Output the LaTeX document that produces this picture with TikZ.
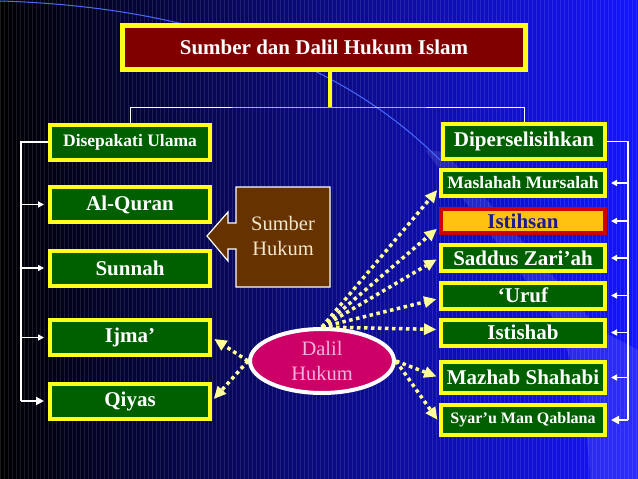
\documentclass[tikz,border=0pt]{standalone}
\usepackage{fontspec}
\setmainfont{Liberation Serif}
\usetikzlibrary{positioning, arrows.meta, shapes.geometric}
\definecolor{hijau}{HTML}{006000}
\definecolor{kuning}{HTML}{FFFF1A}
\definecolor{kuningmuda}{HTML}{FFFF99}
\definecolor{merah}{HTML}{800000}
\definecolor{oranye}{HTML}{FFC20E}
\definecolor{merahtua}{HTML}{D00000}
\definecolor{birunila}{HTML}{1C1C8C}
\definecolor{coklat}{HTML}{663300}
\definecolor{krem}{HTML}{F2E6CC}
\definecolor{magenta}{HTML}{CC0066}
\definecolor{merahmuda}{HTML}{F8B0DC}
\definecolor{birutua}{HTML}{000088}
\definecolor{biruterang}{HTML}{1414FF}
\definecolor{biruhias}{HTML}{4A6AFF}

\begin{document}
\begin{tikzpicture}[x=1pt, y=-1pt,
    kotak/.style={draw=kuning, line width=4pt, fill=hijau, text=white,
                  minimum width=160pt, minimum height=35pt, inner sep=0pt,
                  font=\fontsize{21}{25}\bfseries\selectfont},
    kotakkanan/.style={kotak, minimum width=164pt, minimum height=26pt},
    garis/.style={white, line width=1.6pt},
    cabang/.style={garis, -{Triangle[length=6pt,width=6pt]}, shorten >=4pt},
    titik/.style={kuningmuda, line width=3.5pt, dash pattern=on 3.5pt off 3.5pt,
                  -{Triangle[length=12pt,width=12pt,line width=0pt]}, shorten >=3pt}]

  \useasboundingbox (0,0) rectangle (638,479);
  % latar
  \shade[left color=black, middle color=birutua, right color=biruterang]
    (0,0) rectangle (638,479);
  \foreach \x in {0,4,...,636}
    \draw[white, opacity=0.10, line width=0.8pt] (\x,0) -- (\x,479);
  \fill[white, opacity=0.10] (425,150) -- (445,152) -- (600,330) -- (638,350)
    -- (638,479) -- (590,479) .. controls (586,400) and (572,350) .. (545,305) -- cycle;
  \draw[biruhias, line width=1pt] (0,1) .. controls (170,6) and (330,50) .. (440,160);

  % judul
  \node[draw=kuning, line width=5pt, fill=merah, text=white,
        minimum width=403pt, minimum height=44pt, inner sep=0pt,
        font=\fontsize{21}{25}\bfseries\selectfont] (judul) at (324,47.5)
    {Sumber dan Dalil Hukum Islam};

  % kolom kiri
  \node[kotak, font=\fontsize{17.5}{20}\bfseries\selectfont] (dis) at (130,142) {Disepakati Ulama};
  \node[kotak] (quran) at (130,204.5) {Al-Quran};
  \node[kotak] (sunnah) at (130,268) {Sunnah};
  \node[kotak] (ijma) at (130,337.5) {Ijma’};
  \node[kotak] (qiyas) at (130,401) {Qiyas};

  % kolom kanan
  \node[kotak, minimum width=162pt] (diper) at (524,141.5) {Diperselisihkan};
  \node[kotakkanan, font=\fontsize{17.5}{20}\bfseries\selectfont] (mas) at (523,183) {Maslahah Mursalah};
  \node[kotakkanan, draw=merahtua, fill=oranye, text=birunila, minimum height=24pt] (ist) at (523,221) {Istihsan};
  \node[kotakkanan] (sad) at (523,258) {Saddus Zari’ah};
  \node[kotakkanan] (uruf) at (523,295.5) {‘Uruf};
  \node[kotakkanan] (istishab) at (523,332.5) {Istishab};
  \node[kotakkanan, minimum height=31pt] (mazhab) at (523,377.5) {Mazhab Shahabi};
  \node[kotakkanan, minimum height=30pt, font=\fontsize{16}{19}\bfseries\selectfont] (syar) at (523,420) {Syar’u Man Qablana};

  % cabang dari judul
  \coordinate (bar) at (330,107);
  \draw[kuning, line width=4pt] (judul.south -| bar) -- (bar);
  \draw[white, line width=0.9pt] (dis.north) |- (bar) -| (diper.north);

  % kurung kiri dan kanan
  \coordinate (kiri) at (21,0);
  \coordinate (kanan) at (628,0);
  \draw[garis] (dis.west) -- (dis.west -| kiri) -- (kiri |- qiyas);
  \foreach \n in {quran, sunnah, ijma}
    \draw[cabang] (kiri |- \n) -- (\n);
  \draw[cabang, line width=2.6pt, -{Triangle[length=8pt,width=8pt]}] (kiri |- qiyas) -- (qiyas);
  \draw[garis] (diper.east) -- (diper.east -| kanan) -- (kanan |- syar);
  \foreach \n in {mas, ist, sad, uruf, istishab, mazhab}
    \draw[cabang] (kanan |- \n) -- (\n);
  \draw[cabang, line width=2.6pt, -{Triangle[length=8pt,width=8pt]}] (kanan |- syar) -- (syar);

  % sumber hukum
  \filldraw[fill=coklat, draw=white, line width=1.2pt]
    (236,187) -- (330,187) -- (330,287) -- (236,287) -- (236,249) -- (228,249)
    -- (228,261) -- (207,236) -- (228,212) -- (228,223) -- (236,223) -- cycle;
  \node[text=krem, align=center, font=\fontsize{20.5}{25}\selectfont] (sumber) at (283,236)
    {Sumber\\Hukum};

  % dalil hukum
  \node[ellipse, draw=white, line width=4pt, fill=magenta, text=merahmuda,
        minimum width=144pt, minimum height=64pt, inner sep=0pt, align=center,
        font=\fontsize{20.5}{25}\selectfont] (dalil) at (322,361) {Dalil\\Hukum};

  \draw[titik] (dalil.west) -- (ijma.east);
  \draw[titik] (dalil.west) -- (qiyas.east);
  \foreach \n/\d in {mas/5, ist/6, sad/0, uruf/3, istishab/-3}
    \draw[titik] (dalil.north) -- ([yshift=-\d pt]\n.west);
  \draw[titik] (dalil.east) -- (mazhab.west);
  \draw[titik] (dalil.east) -- ([yshift=-2pt]syar.west);
\end{tikzpicture}
\end{document}
